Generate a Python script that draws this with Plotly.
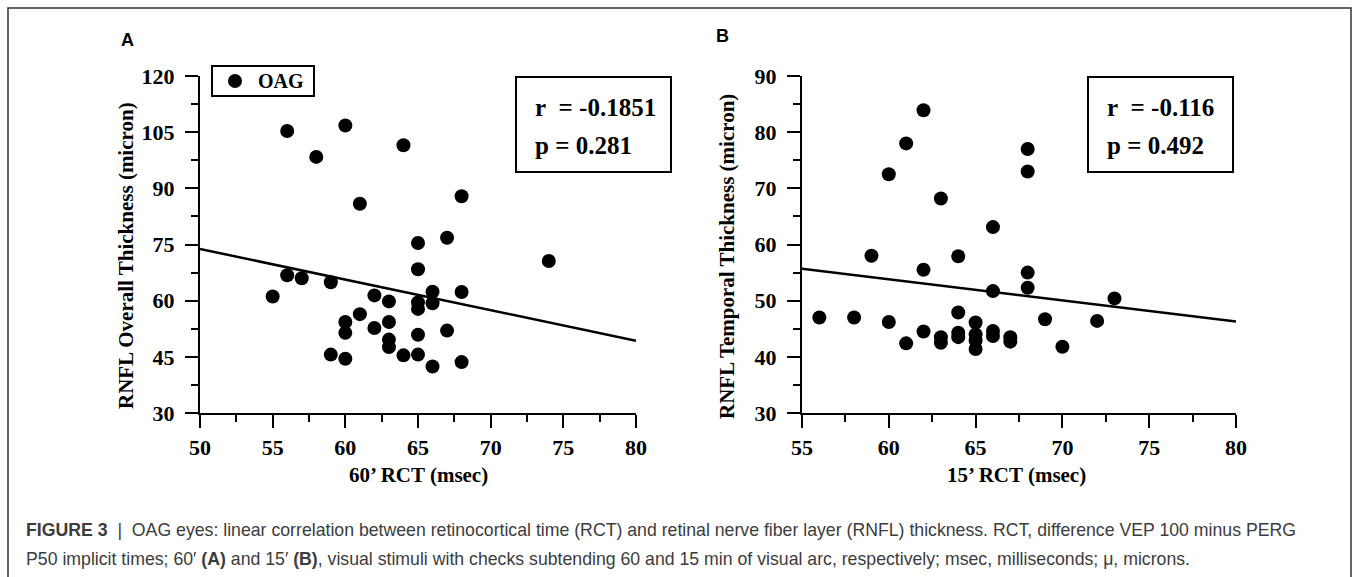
import plotly.graph_objects as go

W, H = 1354, 577

# ---------------- data ----------------
rct60 = [56, 60, 58, 64, 61, 68, 65, 67, 74, 65, 56, 57, 59, 55, 62, 66, 68, 63,
         65, 65, 66, 61, 60, 60, 62, 63, 63, 63, 65, 67, 59, 60, 64, 65, 66, 68]
rnfl_overall = [105.3, 106.8, 98.4, 101.5, 85.9, 87.9, 75.4, 76.8, 70.6, 68.4, 66.8, 66.0,
                64.9, 61.1, 61.4, 62.4, 62.3, 59.8, 59.5, 57.8, 59.3, 56.4, 54.3, 51.4,
                52.7, 54.3, 49.6, 47.6, 50.9, 52.0, 45.6, 44.5, 45.4, 45.6, 42.4, 43.6]
fitA_x = [50, 80]
fitA_y = [73.8, 49.3]

rct15 = [62, 61, 68, 68, 60, 63, 66, 59, 64, 62, 68, 68, 66, 73, 56, 58, 60, 72,
         61, 62, 63, 63, 64, 64, 64, 65, 65, 65, 65, 66, 66, 67, 67, 69, 70]
rnfl_temporal = [83.9, 78.0, 77.0, 73.0, 72.5, 68.2, 63.1, 58.0, 57.9, 55.5, 55.0, 52.3,
                 51.7, 50.4, 47.0, 47.0, 46.2, 46.4,
                 42.4, 44.5, 43.5, 42.5, 47.9, 44.3, 43.5, 46.1, 44.0, 42.9, 41.4,
                 44.6, 43.7, 43.5, 42.7, 46.7, 41.8]
fitB_x = [55, 80]
fitB_y = [55.7, 46.3]

xticksA = [50, 55, 60, 65, 70, 75, 80]
yticksA = [30, 45, 60, 75, 90, 105, 120]
xticksB = [55, 60, 65, 70, 75, 80]
yticksB = [30, 40, 50, 60, 70, 80, 90]

legend_label = "OAG"
statsA = ["r\u00a0\u00a0= -0.1851", "p = 0.281"]
statsB = ["r\u00a0\u00a0= -0.116", "p = 0.492"]
caption1 = ("<b>FIGURE 3</b>  |  OAG eyes: linear correlation between retinocortical time (RCT) and "
            "retinal nerve fiber layer (RNFL) thickness. RCT, difference VEP 100 minus PERG")
caption2 = ("P50 implicit times; 60\u2032 <b>(A)</b> and 15\u2032 <b>(B)</b>, visual stimuli with checks "
            "subtending 60 and 15 min of visual arc, respectively; msec, milliseconds; \u03bc, microns.")


def px(x):
    return x / W


def py(y):
    return 1 - y / H


SERIF = "Liberation Serif, Times New Roman, serif"
SANS = "Liberation Sans, Arial, sans-serif"

fig = go.Figure()
fig.add_trace(go.Scatter(x=rct60, y=rnfl_overall, mode="markers", name=legend_label,
                         marker=dict(color="black", size=14), xaxis="x", yaxis="y",
                         showlegend=False))
fig.add_trace(go.Scatter(x=fitA_x, y=fitA_y, mode="lines", line=dict(color="black", width=2.5),
                         xaxis="x", yaxis="y", showlegend=False))
fig.add_trace(go.Scatter(x=rct15, y=rnfl_temporal, mode="markers", name=legend_label,
                         marker=dict(color="black", size=14), xaxis="x2", yaxis="y2",
                         showlegend=False))
fig.add_trace(go.Scatter(x=fitB_x, y=fitB_y, mode="lines", line=dict(color="black", width=2.5),
                         xaxis="x2", yaxis="y2", showlegend=False))

tickfont = dict(family=SERIF, size=22, color="black", weight="bold")
ydom = [py(413), py(76)]


def xaxis(dom, rng, tv, anchor):
    return dict(domain=dom, range=rng, anchor=anchor, tickvals=tv, ticks="outside", ticklen=13,
                tickwidth=2, tickcolor="black", showline=True, linecolor="black", linewidth=2,
                showgrid=False, zeroline=False, tickfont=tickfont, ticklabelstandoff=1,
                automargin=False,
                minor=dict(dtick=2.5, tick0=rng[0], ticks="outside", ticklen=7, tickwidth=2,
                           tickcolor="black", showgrid=False))


def yaxis(rng, tv, minor, anchor):
    return dict(domain=ydom, range=rng, anchor=anchor, tickvals=tv, ticks="outside", ticklen=13,
                tickwidth=2, tickcolor="black", showline=True, linecolor="black", linewidth=2,
                showgrid=False, zeroline=False, tickfont=tickfont, ticklabelstandoff=6,
                automargin=False,
                minor=dict(dtick=minor, tick0=rng[0], ticks="outside", ticklen=7, tickwidth=2,
                           tickcolor="black", showgrid=False))


fig.update_layout(
    width=W, height=H, margin=dict(l=0, r=0, t=0, b=0),
    paper_bgcolor="white", plot_bgcolor="white", showlegend=False,
    xaxis=xaxis([px(200), px(636)], [50, 80], xticksA, "y"),
    yaxis=yaxis([30, 120], yticksA, 7.5, "x"),
    xaxis2=xaxis([px(802), px(1236)], [55, 80], xticksB, "y2"),
    yaxis2=yaxis([30, 90], yticksB, 5, "x2"),
)

shapes = [
    dict(type="rect", xref="paper", yref="paper", x0=px(8), x1=px(1351), y0=py(8), y1=py(600),
         line=dict(color="#333333", width=1.5), layer="below"),
    # legend box
    dict(type="rect", xref="paper", yref="paper", x0=px(212), x1=px(314), y0=py(66), y1=py(96),
         line=dict(color="black", width=2), fillcolor="white"),
    dict(type="circle", xref="paper", yref="paper", x0=px(228), x1=px(242), y0=py(74), y1=py(88),
         line=dict(color="black", width=0), fillcolor="black"),
    # stats boxes
    dict(type="rect", xref="paper", yref="paper", x0=px(516), x1=px(671), y0=py(77), y1=py(172),
         line=dict(color="black", width=2), fillcolor="white"),
    dict(type="rect", xref="paper", yref="paper", x0=px(1088), x1=px(1233), y0=py(77), y1=py(172),
         line=dict(color="black", width=2), fillcolor="white"),
]
fig.update_layout(shapes=shapes)

ann = []


def text(x, y, t, size, family=SERIF, bold=True, angle=0, xanchor="center", color="black"):
    ann.append(dict(x=px(x), y=py(y), xref="paper", yref="paper", text=t, showarrow=False,
                    xanchor=xanchor, yanchor="middle", textangle=angle,
                    font=dict(family=family, size=size, color=color,
                              weight="bold" if bold else "normal")))


text(256, 81, legend_label, 20, xanchor="left")
text(127, 40, "A", 18, family=SANS)
text(722, 36, "B", 18, family=SANS)
text(418, 475, "60\u2019 RCT (msec)", 21)
text(1016, 475, "15\u2019 RCT (msec)", 21)
text(126, 256, "RNFL Overall Thickness (micron)", 21, angle=-90)
text(727, 257, "RNFL Temporal Thickness (micron)", 21, angle=-90)
text(533, 108, statsA[0], 25, xanchor="left")
text(533, 145, statsA[1], 25, xanchor="left")
text(1105, 108, statsB[0], 25, xanchor="left")
text(1105, 145, statsB[1], 25, xanchor="left")
text(24, 530, caption1, 17.7, family=SANS, bold=False, xanchor="left", color="#3c3c3c")
text(24, 559, caption2, 17.7, family=SANS, bold=False, xanchor="left", color="#3c3c3c")
fig.update_layout(annotations=ann)

fig.write_html("out.html", config={"displayModeBar": False},
               post_script="document.body.style.margin='0';document.body.style.overflow='hidden';")
